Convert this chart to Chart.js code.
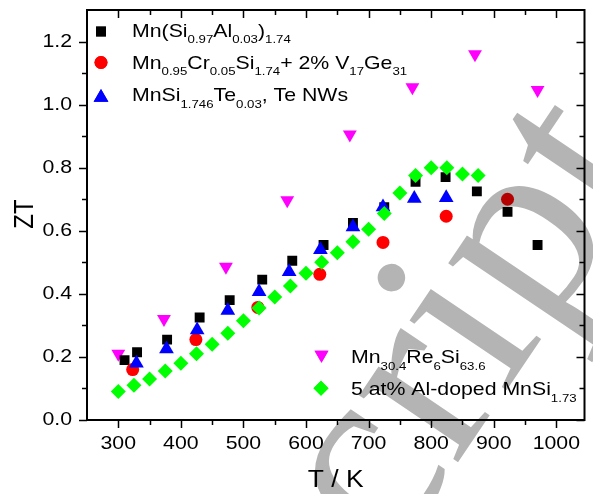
<!DOCTYPE html>
<html>
<head>
<meta charset="utf-8">
<title>ZT vs T</title>
<script src="https://cdn.jsdelivr.net/npm/chart.js@4.4.0/dist/chart.umd.min.js"></script>
<style>
  html, body { margin: 0; padding: 0; background: #fff; }
  canvas { display: block; }
</style>
</head>
<body>
<canvas id="ztChart" width="593" height="494"></canvas>
<script>
// --- series: temperature (K) and ZT ---
const alT  = [310, 330, 378, 430, 478, 530, 578, 628, 675, 725, 775, 823, 873, 922, 970];
const alZT = [0.19, 0.215, 0.255, 0.325, 0.38, 0.445, 0.505, 0.555, 0.625, 0.675, 0.755, 0.77, 0.725, 0.66, 0.555];

const crT  = [323, 424, 523, 622, 723, 824, 922];
const crZT = [0.16, 0.255, 0.357, 0.462, 0.563, 0.646, 0.70];

const teT  = [329, 377, 426, 475, 525, 573, 623, 675, 723, 773, 824];
const teZT = [0.18, 0.225, 0.285, 0.347, 0.407, 0.47, 0.54, 0.612, 0.675, 0.702, 0.705];

const reT  = [300, 373, 472, 570, 670, 770, 870, 970];
const reZT = [0.21, 0.32, 0.486, 0.697, 0.905, 1.055, 1.16, 1.046];

const dopT  = [300, 325, 350, 375, 400, 425, 450, 475, 500, 525, 550, 575, 600, 625, 650, 675, 700, 725, 750, 775, 800, 825, 850, 875];
const dopZT = [0.09, 0.11, 0.13, 0.155, 0.18, 0.21, 0.24, 0.275, 0.315, 0.355, 0.39, 0.425, 0.465, 0.50, 0.53, 0.565, 0.605, 0.655, 0.72, 0.775, 0.80, 0.80, 0.78, 0.775];

const seriesNames = [
  'Mn(Si_{0.97}Al_{0.03})_{1.74}',
  'Mn_{0.95}Cr_{0.05}Si_{1.74}+ 2% V_{17}Ge_{31}',
  'MnSi_{1.746}Te_{0.03}, Te NWs',
  'Mn_{30.4}Re_{6}Si_{63.6}',
  '5 at% Al-doped MnSi_{1.73}'
];

const xTicks = [300, 400, 500, 600, 700, 800, 900, 1000];
const yTicks = [0.0, 0.2, 0.4, 0.6, 0.8, 1.0, 1.2];

// text is drawn slightly wide, like the original export
const SX = 1.15;
const FONT = '"Liberation Sans", Arial, sans-serif';

function pts(xs, ys) {
  return xs.map(function (t, i) { return { x: t, y: ys[i] }; });
}

function series(xs, ys, color, style, radius, rotation, order) {
  return {
    data: pts(xs, ys),
    backgroundColor: color,
    borderColor: color,
    pointStyle: style,
    pointRadius: radius,
    pointRotation: rotation,
    pointBorderWidth: 0,
    pointHoverRadius: radius,
    order: order
  };
}

function wideText(ctx, str, x, y, size, align, baseline) {
  ctx.save();
  ctx.font = size + 'px ' + FONT;
  ctx.textAlign = align || 'left';
  ctx.textBaseline = baseline || 'alphabetic';
  ctx.translate(x, y);
  ctx.scale(SX, 1);
  ctx.fillText(str, 0, 0);
  ctx.restore();
}

// label with _{...} subscripts
function richText(ctx, str, x, y) {
  var parts = str.split(/(_\{[^}]*\})/).filter(function (s) { return s; });
  var cx = x;
  parts.forEach(function (p) {
    var sub = p.indexOf('_{') === 0;
    var t = sub ? p.slice(2, -1) : p;
    var size = sub ? 11.5 : 18.5;
    ctx.font = size + 'px ' + FONT;
    var w = ctx.measureText(t).width * SX;
    wideText(ctx, t, cx, sub ? y + 6.5 : y, size);
    cx += w;
  });
}

var legendRows = [
  { name: seriesNames[0], color: '#000000', style: 'rect',     radius: 7,   rotation: 0,   mx: 101,   my: 31.5,  tx: 132, ty: 36.5 },
  { name: seriesNames[1], color: '#ff0000', style: 'circle',   radius: 6.5, rotation: 0,   mx: 101,   my: 62.5,  tx: 132, ty: 68.5 },
  { name: seriesNames[2], color: '#0000ff', style: 'triangle', radius: 8.5, rotation: 0,   mx: 101,   my: 97.5,  tx: 132, ty: 101 },
  { name: seriesNames[3], color: '#ff00ff', style: 'triangle', radius: 8,   rotation: 180, mx: 321.5, my: 354.8, tx: 351, ty: 363 },
  { name: seriesNames[4], color: '#00ff00', style: 'rectRot',  radius: 7.5, rotation: 0,   mx: 321,   my: 388.3, tx: 351, ty: 395 }
];

// box, tick marks, tick labels, titles and legend
var frame = {
  id: 'frame',
  afterDatasetsDraw: function (chart) {
    var ctx = chart.ctx, a = chart.chartArea;
    var xs = chart.scales.x, ys = chart.scales.y;
    ctx.save();
    ctx.strokeStyle = '#000';
    ctx.fillStyle = '#000';
    ctx.lineWidth = 2;
    ctx.strokeRect(a.left, a.top, a.right - a.left, a.bottom - a.top);

    ctx.lineWidth = 1.5;
    ctx.beginPath();
    for (var k = 6; k <= 20; k++) {
      var px = Math.round(xs.getPixelForValue(k * 50)) + 0.5;
      var len = k % 2 === 0 ? 8 : 5;
      ctx.moveTo(px, a.bottom); ctx.lineTo(px, a.bottom + len);
      ctx.moveTo(px, a.top);    ctx.lineTo(px, a.top + len);
    }
    for (var j = 0; j <= 12; j++) {
      var py = Math.round(ys.getPixelForValue(j / 10)) + 0.5;
      var l2 = j % 2 === 0 ? 8 : 5;
      ctx.moveTo(a.left, py);  ctx.lineTo(a.left - l2, py);
      ctx.moveTo(a.right, py); ctx.lineTo(a.right - l2, py);
    }
    ctx.stroke();

    xTicks.forEach(function (v) {
      wideText(ctx, String(v), xs.getPixelForValue(v), a.bottom + 24, 18.5, 'center', 'middle');
    });
    yTicks.forEach(function (v) {
      wideText(ctx, v.toFixed(1), a.left - 15, ys.getPixelForValue(v), 18.5, 'right', 'middle');
    });

    wideText(ctx, 'T / K', (a.left + a.right) / 2, 481, 23, 'center', 'middle');
    ctx.save();
    ctx.font = '24px ' + FONT;
    ctx.textAlign = 'center';
    ctx.textBaseline = 'middle';
    ctx.translate(25, 214);
    ctx.scale(SX, 1);
    ctx.rotate(-Math.PI / 2);
    ctx.fillText('ZT', 0, 0);
    ctx.restore();

    legendRows.forEach(function (r) {
      ctx.fillStyle = r.color;
      Chart.helpers.drawPoint(ctx, {
        pointStyle: r.style, radius: r.radius, rotation: r.rotation, borderWidth: 0
      }, r.mx, r.my);
      ctx.fill();
      ctx.fillStyle = '#000';
      richText(ctx, r.name, r.tx, r.ty);
    });
    ctx.restore();
  }
};

// grey "script" stamp over the lower right
var stamp = {
  id: 'stamp',
  afterDraw: function (chart) {
    var ctx = chart.ctx;
    ctx.save();
    ctx.globalCompositeOperation = 'multiply';
    ctx.fillStyle = '#b4b4b4';
    ctx.font = '260px "Liberation Serif", serif';
    ctx.translate(334, 646);
    ctx.rotate(-56 * Math.PI / 180);
    ctx.fillText('script', 0, 0);
    ctx.restore();
  }
};

new Chart(document.getElementById('ztChart'), {
  type: 'scatter',
  data: {
    datasets: [
      series(dopT, dopZT, '#00ff00', 'rectRot', 7.5, 0, 0),
      series(teT, teZT, '#0000ff', 'triangle', 8.5, 0, 1),
      series(crT, crZT, '#ff0000', 'circle', 6.5, 0, 2),
      series(alT, alZT, '#000000', 'rect', 7, 0, 3),
      series(reT, reZT, '#ff00ff', 'triangle', 8, 180, 4)
    ]
  },
  options: {
    responsive: false,
    animation: false,
    layout: { padding: { top: 10, right: 3, left: 0, bottom: 0 } },
    plugins: { legend: { display: false }, tooltip: { enabled: false } },
    scales: {
      x: {
        type: 'linear', min: 250, max: 1045,
        grid: { display: false }, border: { display: false },
        ticks: { display: false },
        afterFit: function (s) { s.height = 74; }
      },
      y: {
        type: 'linear', min: 0, max: 1.3,
        grid: { display: false }, border: { display: false },
        ticks: { display: false },
        afterFit: function (s) { s.width = 87; }
      }
    }
  },
  plugins: [frame, stamp]
});
</script>
</body>
</html>
